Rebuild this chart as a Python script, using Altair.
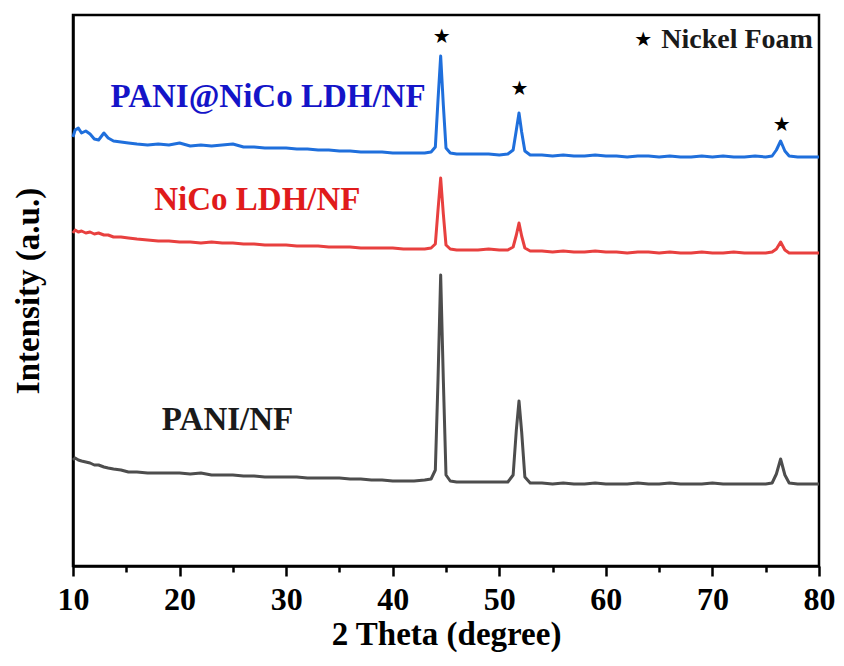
import altair as alt
import pandas as pd

# 2-theta grid (degrees), shared by the three patterns
two_theta = [10.0, 10.2, 10.5, 10.8, 11.2, 11.6, 12.0, 12.4, 12.9, 13.3, 13.8, 14.5, 15.2,
             16, 17, 18, 19, 20, 21, 22, 23, 24, 25, 26, 27, 28, 29, 30, 31, 32, 33, 34,
             35, 36, 37, 38, 39, 40, 41, 42, 43, 43.6, 44.0, 44.25, 44.5, 44.75, 45.0, 45.4,
             46, 47, 48, 49, 50, 50.8, 51.3, 51.6, 51.85, 52.1, 52.4, 52.9,
             54, 55, 56, 57, 58, 59, 60, 61, 62, 63, 64, 65, 66, 67, 68, 69, 70, 71, 72,
             73, 74, 75, 75.6, 76.0, 76.4, 76.8, 77.2, 78, 79, 80]

# intensities (a.u., offset stacked)
pani_nico = [429, 436, 438, 433, 435, 432, 427, 426, 433, 428, 425, 424, 423,
             422, 421, 422, 421, 423, 420, 421, 420, 421, 422, 419, 419, 418, 418, 418, 417, 417, 416, 416,
             415, 415, 414, 414, 414, 413, 413, 413, 413, 414, 419, 466, 510, 461, 418, 413,
             412, 412, 412, 412, 411, 412, 416, 436, 453, 434, 415, 411,
             411, 410, 411, 410, 410, 411, 410, 410, 409, 410, 410, 409, 410, 409, 409, 410, 409, 410, 409,
             409, 410, 409, 410, 416, 425, 415, 410, 409, 409, 409]
nico = [333, 336, 334, 335, 333, 334, 332, 333, 331, 331, 329, 329, 328,
        327, 326, 325, 325, 324, 324, 323, 324, 323, 323, 322, 322, 321, 321, 321, 320, 320, 320, 319,
        319, 319, 318, 318, 318, 318, 317, 317, 317, 318, 322, 356, 388, 352, 321, 317,
        316, 316, 316, 317, 316, 316, 319, 331, 343, 330, 318, 315,
        315, 314, 315, 314, 314, 315, 314, 314, 313, 314, 314, 313, 314, 313, 313, 314, 313, 313, 314,
        313, 313, 313, 314, 317, 324, 316, 313, 313, 313, 313]
pani = [106, 108, 106, 105, 104, 103, 101, 101, 99, 98, 97, 96, 94,
        94, 93, 93, 93, 93, 92, 93, 91, 91, 91, 90, 90, 89, 89, 89, 89, 88, 88, 88,
        88, 87, 87, 86, 86, 85, 85, 85, 86, 87, 96, 186, 291, 186, 91, 85,
        84, 84, 84, 84, 84, 84, 91, 136, 165, 134, 89, 83,
        83, 82, 83, 82, 82, 83, 82, 82, 82, 83, 82, 82, 83, 82, 82, 82, 83, 82, 82,
        82, 82, 82, 83, 92, 107, 91, 83, 82, 82, 82]

series_names = ["PANI/NF", "NiCo LDH/NF", "PANI@NiCo LDH/NF"]
line_colors = ["#4d4d4d", "#e8403f", "#1f6fdc"]

rows = []
for name, vals in zip(series_names, [pani, nico, pani_nico]):
    for t, v in zip(two_theta, vals):
        rows.append({"theta": t, "intensity": v, "sample": name})
df = pd.DataFrame(rows)

# sample labels
label_text = ["PANI@NiCo LDH/NF", "NiCo LDH/NF", "PANI/NF"]
label_x = [28.3, 27.3, 24.5]
label_y = [469, 366, 146]
label_color = ["#1414c8", "#e01b1b", "#1a1a1a"]
labels_df = pd.DataFrame({"text": label_text, "x": label_x, "y": label_y, "c": label_color})

# Nickel foam peak markers
star_x = [44.6, 51.9, 76.5, 63.5]
star_y = [529, 477, 441, 526]
stars_df = pd.DataFrame({"x": star_x, "y": star_y, "s": ["★"] * 4})

legend_df = pd.DataFrame({"x": [65.2], "y": [526], "text": ["Nickel Foam"]})

FONT = "Liberation Serif"

xscale = alt.Scale(domain=[10, 80], nice=False, zero=False)
yscale = alt.Scale(domain=[0, 551], nice=False, zero=False)

lines = alt.Chart(df).mark_line(strokeWidth=3, strokeJoin="round").encode(
    x=alt.X("theta:Q", scale=xscale,
            axis=alt.Axis(title="2 Theta (degree)",
                          values=[10, 15, 20, 25, 30, 35, 40, 45, 50, 55, 60, 65, 70, 75, 80],
                          labelExpr="datum.value % 10 === 0 ? datum.label : ''",
                          tickSize={"condition": {"test": "datum.value % 10 === 0", "value": 10}, "value": 6},
                          labelFlush=False, labelOverlap=False,
                          labelPadding=8, titlePadding=3)),
    y=alt.Y("intensity:Q", scale=yscale,
            axis=alt.Axis(title="Intensity (a.u.)", labels=False, ticks=False, titlePadding=28)),
    color=alt.Color("sample:N", scale=alt.Scale(domain=series_names, range=line_colors), legend=None),
    detail="sample:N",
)

labels = alt.Chart(labels_df).mark_text(font=FONT, fontSize=33, fontWeight="bold",
                                        align="center", baseline="middle").encode(
    x=alt.X("x:Q", scale=xscale), y=alt.Y("y:Q", scale=yscale),
    text="text:N", color=alt.Color("c:N", scale=None))

stars = alt.Chart(stars_df).mark_text(font="DejaVu Sans", fontSize=20, color="black",
                                      align="center", baseline="middle").encode(
    x=alt.X("x:Q", scale=xscale), y=alt.Y("y:Q", scale=yscale), text="s:N")

legend = alt.Chart(legend_df).mark_text(font=FONT, fontSize=28, fontWeight="bold", color="#1a1a1a",
                                        align="left", baseline="middle").encode(
    x=alt.X("x:Q", scale=xscale), y=alt.Y("y:Q", scale=yscale), text="text:N")

chart = alt.layer(lines, labels, stars, legend).properties(
    width=746, height=551,
    autosize=alt.AutoSizeParams(type="none"),
    padding={"left": 65, "top": 7, "right": 17, "bottom": 100},
).configure_view(stroke="black", strokeWidth=2.5).configure_axis(
    domainColor="black", domainWidth=2.5, tickColor="black", tickWidth=2.5,
    labelFont=FONT, labelFontSize=32, labelFontWeight="bold", labelColor="black",
    titleFont=FONT, titleFontSize=33, titleFontWeight="bold", titleColor="black",
    grid=False,
)

chart.save("out.html", embed_options={"renderer": "svg", "actions": False})
